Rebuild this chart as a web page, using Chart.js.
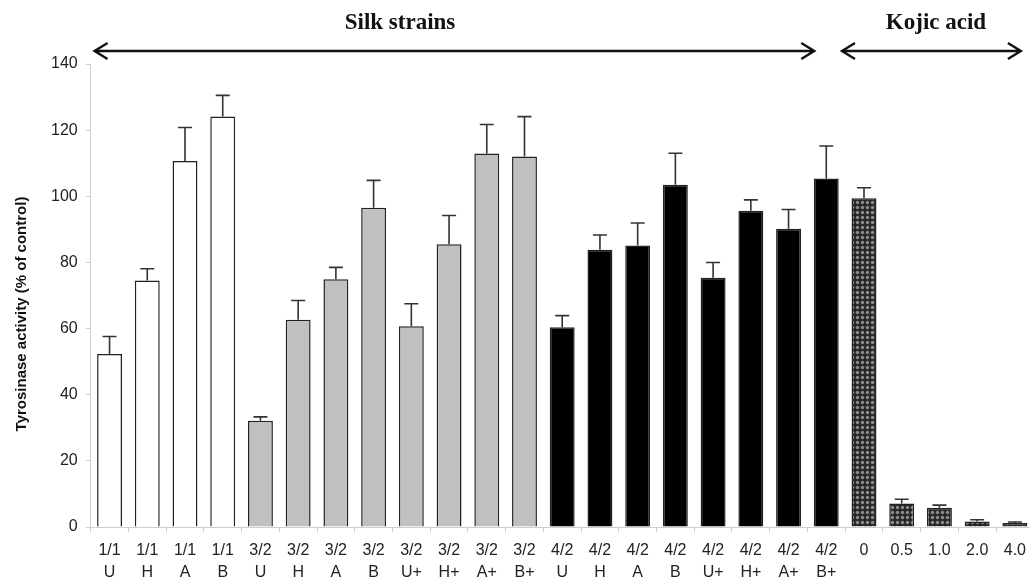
<!DOCTYPE html>
<html>
<head>
<meta charset="utf-8">
<script src="https://cdn.jsdelivr.net/npm/chart.js@4"></script>
<style>
  html, body { margin: 0; background: #fff; overflow: hidden; }
  #wrap { width: 1034px; height: 593px; }
</style>
</head>
<body>
<div id="wrap"><canvas id="myChart" width="1034" height="593"></canvas></div>
<script>
// tyrosinase activity per sample
let categories = [
    ['1/1', 'U'], ['1/1', 'H'], ['1/1', 'A'], ['1/1', 'B'],
    ['3/2', 'U'], ['3/2', 'H'], ['3/2', 'A'], ['3/2', 'B'],
    ['3/2', 'U+'], ['3/2', 'H+'], ['3/2', 'A+'], ['3/2', 'B+'],
    ['4/2', 'U'], ['4/2', 'H'], ['4/2', 'A'], ['4/2', 'B'],
    ['4/2', 'U+'], ['4/2', 'H+'], ['4/2', 'A+'], ['4/2', 'B+'],
    '0', '0.5', '1.0', '2.0', '4.0'
];
let activity = [
    52.3, 74.5, 110.7, 124.1,
    32.1, 62.7, 74.9, 96.5, 60.7, 85.5, 112.9, 112.0,
    60.4, 83.8, 85.1, 103.5, 75.4, 95.6, 90.2, 105.4,
    99.4, 7.1, 5.8, 1.7, 1.2
];
let errUp = [
    5.3, 3.6, 10.1, 6.4,
    1.2, 5.8, 3.6, 8.3, 6.8, 8.7, 8.8, 12.1,
    3.5, 4.5, 6.8, 9.5, 4.6, 3.3, 5.8, 9.8,
    3.2, 1.3, 0.8, 0.5, 0.3
];
let yTicks = [0, 20, 40, 60, 80, 100, 120, 140];
let yTitle = 'Tyrosinase activity (% of control)';
let groupNames = ['Silk strains', 'Kojic acid'];
let groupSpan = [[0, 19], [20, 24]];

function kojicPattern() {
    let c = document.createElement('canvas');
    c.width = 5;
    c.height = 5;
    let g = c.getContext('2d');
    g.fillStyle = '#262626';
    g.fillRect(0, 0, 5, 5);
    g.fillStyle = '#8c8c8c';
    g.beginPath();
    g.arc(2.5, 2.5, 1.7, 0, Math.PI * 2);
    g.fill();
    return g.createPattern(c, 'repeat');
}

function fillFor(label) {
    let s = Array.isArray(label) ? label[0] : 'k';
    if (s === '1/1') return '#ffffff';
    if (s === '3/2') return '#c0c0c0';
    if (s === '4/2') return '#000000';
    return kojicPattern();
}

const errorBars = {
    id: 'errorBars',
    afterDatasetsDraw(chart) {
        let ctx = chart.ctx;
        let y = chart.scales.y;
        let meta = chart.getDatasetMeta(0);
        ctx.save();
        ctx.strokeStyle = '#333';
        ctx.lineWidth = 1.6;
        meta.data.forEach((bar, i) => {
            let y0 = y.getPixelForValue(activity[i]);
            let y1 = y.getPixelForValue(activity[i] + errUp[i]);
            ctx.beginPath();
            ctx.moveTo(bar.x, y0);
            ctx.lineTo(bar.x, y1);
            ctx.moveTo(bar.x - 7, y1);
            ctx.lineTo(bar.x + 7, y1);
            ctx.stroke();
        });
        ctx.restore();
    }
};

function arrow(ctx, xa, xb, yy) {
    ctx.beginPath();
    ctx.moveTo(xa, yy);
    ctx.lineTo(xb, yy);
    ctx.moveTo(xa + 13, yy - 8);
    ctx.lineTo(xa, yy);
    ctx.lineTo(xa + 13, yy + 8);
    ctx.moveTo(xb - 13, yy - 8);
    ctx.lineTo(xb, yy);
    ctx.lineTo(xb - 13, yy + 8);
    ctx.stroke();
}

const groupArrows = {
    id: 'groupArrows',
    afterDraw(chart) {
        let ctx = chart.ctx;
        let x = chart.scales.x;
        ctx.save();
        ctx.strokeStyle = '#111';
        ctx.lineWidth = 2.4;
        ctx.fillStyle = '#111';
        ctx.font = 'bold 23px "Liberation Serif", "Times New Roman", serif';
        ctx.textAlign = 'center';
        ctx.textBaseline = 'middle';
        // silk strains
        let a0 = x.getPixelForValue(groupSpan[0][0]) - 15;
        let a1 = x.getPixelForValue(groupSpan[0][1]) - 12;
        arrow(ctx, a0, a1, 51);
        ctx.fillText(groupNames[0], 400, 23);
        // kojic acid
        let b0 = x.getPixelForValue(groupSpan[1][0]) - 22;
        let b1 = x.getPixelForValue(groupSpan[1][1]) + 6;
        arrow(ctx, b0, b1, 51);
        ctx.fillText(groupNames[1], 936, 23);
        // y axis title, sits a bit below the axis middle in the original
        ctx.translate(22, 314);
        ctx.rotate(-Math.PI / 2);
        ctx.font = 'bold 15px "Liberation Sans", Arial, sans-serif';
        ctx.fillText(yTitle, 0, 0);
        ctx.restore();
    }
};

const ctx = document.getElementById('myChart').getContext('2d');
const myChart = new Chart(ctx, {
    type: 'bar',
    data: {
        labels: categories,
        datasets: [{
            data: activity,
            backgroundColor: categories.map(fillFor),
            borderColor: '#222',
            borderWidth: 1.5,
            barPercentage: 0.66,
            categoryPercentage: 1.0
        }]
    },
    options: {
        responsive: false,
        animation: false,
        layout: {
            padding: { top: 64, right: 0, left: 43, bottom: 1 }
        },
        plugins: {
            legend: { display: false },
            tooltip: { enabled: false }
        },
        scales: {
            x: {
                grid: { drawOnChartArea: false, color: '#cfcfcf', tickLength: 5 },
                border: { color: '#cfcfcf' },
                ticks: {
                    color: '#222',
                    font: { family: '"Liberation Sans", Arial, sans-serif', size: 16, lineHeight: 1.375 },
                    maxRotation: 0,
                    autoSkip: false,
                    padding: 8
                }
            },
            y: {
                min: 0,
                max: 140,
                afterBuildTicks: (axis) => {
                    axis.ticks = yTicks.map(v => ({ value: v }));
                },
                grid: { drawOnChartArea: false, color: '#cfcfcf', tickLength: 5 },
                border: { color: '#cfcfcf' },
                ticks: {
                    color: '#222',
                    font: { family: '"Liberation Sans", Arial, sans-serif', size: 16 },
                    padding: 8
                }
            }
        }
    },
    plugins: [errorBars, groupArrows]
});
</script>
</body>
</html>
